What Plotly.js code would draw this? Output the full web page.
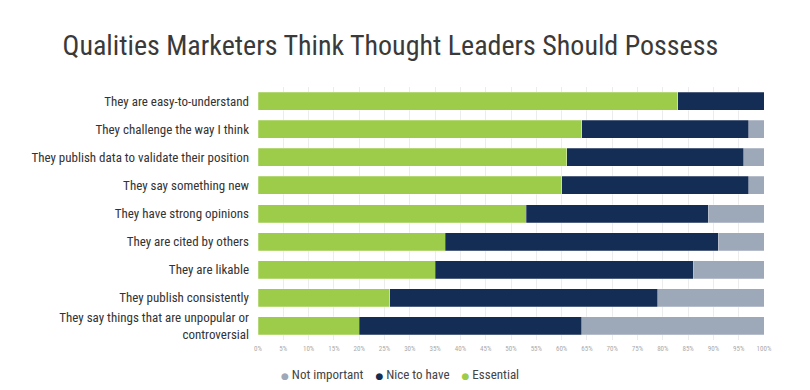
<!DOCTYPE html>
<html>
<head>
<meta charset="utf-8">
<script src="https://cdn.plot.ly/plotly-3.0.1.min.js"></script>
<style>html,body{margin:0;padding:0;background:#fff;}#chart{width:810px;height:390px;}</style>
</head>
<body>
<div id="chart"></div>
<script>
const categories = [
  "They are easy-to-understand",
  "They challenge the way I think",
  "They publish data to validate their position",
  "They say something new",
  "They have strong opinions",
  "They are cited by others",
  "They are likable",
  "They publish consistently",
  "They say things that are unpopular or<br>controversial"
];
const essential    = [83, 64, 61, 60, 53, 37, 35, 26, 20];
const niceToHave   = [17, 33, 35, 37, 36, 54, 51, 53, 44];
const notImportant = [0, 3, 4, 3, 11, 9, 14, 21, 36];
const tickVals = [0,5,10,15,20,25,30,35,40,45,50,55,60,65,70,75,80,85,90,95,100];
const tickText = ["0%","5%","10%","15%","20%","25%","30%","35%","40%","45%","50%","55%","60%","65%","70%","75%","80%","85%","90%","95%","100%"];
const legendNames = ["Not important", "Nice to have", "Essential"];

const FONT = "'Roboto Condensed', Roboto, 'DejaVu Sans', sans-serif";
const cGreen = "#9dcb4a", cNavy = "#142d55", cGrey = "#9da9b8";
const legendColors = [cGrey, cNavy, cGreen];

const barLine = {color: "rgba(255,255,255,0.5)", width: 0.5};
const traces = [
  {type: "bar", orientation: "h", name: "Essential", y: categories, x: essential,
   marker: {color: cGreen, line: barLine}, hoverinfo: "x+name"},
  {type: "bar", orientation: "h", name: "Nice to have", y: categories, x: niceToHave,
   marker: {color: cNavy, line: barLine}, hoverinfo: "x+name"},
  {type: "bar", orientation: "h", name: "Not important", y: categories, x: notImportant,
   marker: {color: cGrey, line: barLine}, hoverinfo: "x+name"}
];

const legendText = legendNames.map((n, i) =>
  `<span style="color:${legendColors[i]};font-size:9px">●</span> ${n}`
).join("&nbsp;&nbsp;&nbsp;&nbsp;");

const layout = {
  width: 810, height: 390,
  margin: {l: 258, r: 46, t: 87, b: 50},
  paper_bgcolor: "#fff", plot_bgcolor: "#fff",
  barmode: "stack", bargap: 0.36,
  font: {family: FONT, color: "#333"},
  showlegend: false,
  title: {text: "Qualities Marketers Think Thought Leaders Should Possess",
    font: {family: FONT, size: 28, color: "#3a3a3a"},
    xref: "container", x: 0.482, xanchor: "center",
    yref: "container", y: 0.885, yanchor: "middle"},
  xaxis: {range: [0, 100], tickvals: tickVals, ticktext: tickText,
    showgrid: true, gridcolor: "#ececec", gridwidth: 1, zeroline: false,
    showline: false, ticks: "", ticklabelstandoff: 3,
    tickfont: {size: 7, color: "#aaaaaa", family: FONT},
    fixedrange: true},
  yaxis: {autorange: "reversed", type: "category", showgrid: false, zeroline: false,
    ticks: "", ticklabelstandoff: 8, tickfont: {size: 13, color: "#333", family: FONT},
    fixedrange: true},
  annotations: [{
    text: legendText, xref: "paper", yref: "paper", x: (400 - 258) / 506, y: -0.135,
    xanchor: "center", yanchor: "middle", showarrow: false,
    font: {size: 13, color: "#444", family: FONT}
  }]
};

Plotly.newPlot("chart", traces, layout, {displayModeBar: false, staticPlot: true});
</script>
</body>
</html>
